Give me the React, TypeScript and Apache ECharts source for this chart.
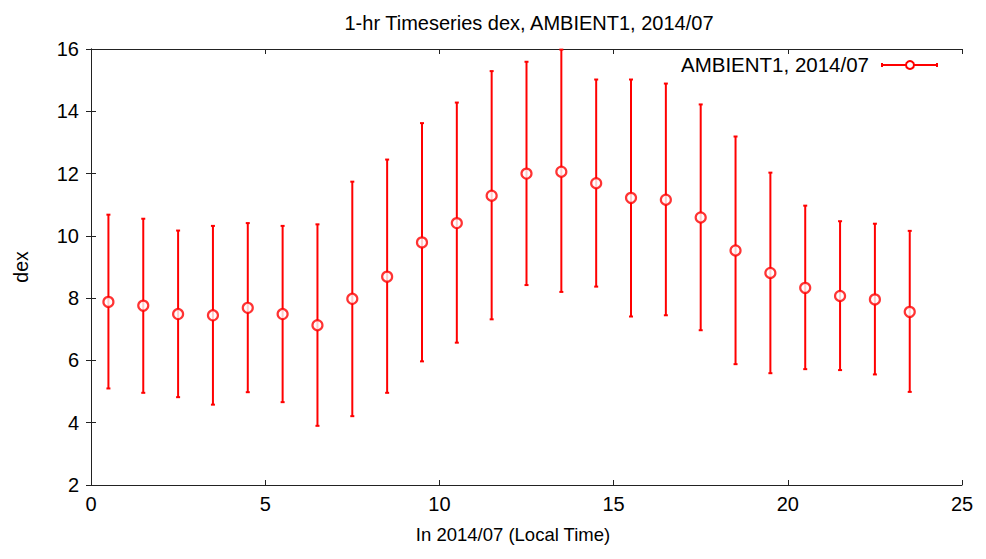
import React, { useEffect, useRef } from "react";
import * as echarts from "echarts";

const hours = [0.5, 1.5, 2.5, 3.5, 4.5, 5.5, 6.5, 7.5, 8.5, 9.5, 10.5, 11.5, 12.5, 13.5, 14.5, 15.5, 16.5, 17.5, 18.5, 19.5, 20.5, 21.5, 22.5, 23.5];
const means = [7.88, 7.76, 7.49, 7.45, 7.69, 7.49, 7.13, 7.98, 8.69, 9.79, 10.41, 11.29, 12.0, 12.06, 11.69, 11.22, 11.16, 10.59, 9.53, 8.81, 8.33, 8.07, 7.96, 7.56];
const highs = [10.68, 10.55, 10.17, 10.32, 10.41, 10.32, 10.37, 11.74, 12.45, 13.62, 14.28, 15.29, 15.59, 15.98, 15.02, 15.02, 14.89, 14.22, 13.19, 12.03, 10.97, 10.47, 10.39, 10.16];
const lows = [5.10, 4.96, 4.82, 4.58, 4.98, 4.66, 3.90, 4.21, 4.96, 5.97, 6.57, 7.32, 8.42, 8.20, 8.37, 7.41, 7.45, 6.97, 5.88, 5.59, 5.72, 5.69, 5.55, 4.99];

const titleText = "1-hr Timeseries dex, AMBIENT1, 2014/07";
const seriesName = "AMBIENT1, 2014/07";
const xName = "In 2014/07 (Local Time)";
const yName = "dex";

const FONT = "'Liberation Sans', Arial, sans-serif";
const RED = "#ff0000";
const AXIS = "#222222";

export default function App() {
  const ref = useRef<HTMLDivElement>(null);
  useEffect(() => {
    document.body.style.margin = "0";
    if (!ref.current) return;
    const chart = echarts.init(ref.current, undefined, { renderer: "svg" });
    const errData = hours.map((h, i) => [h, lows[i], highs[i]]);
    const ptData = hours.map((h, i) => [h, means[i]]);
    const axisCommon = {
      axisLine: { show: true, lineStyle: { color: AXIS, width: 1 } },
      axisTick: { show: true, inside: true, length: 5, lineStyle: { color: AXIS } },
      splitLine: { show: false },
    };
    chart.setOption({
      animation: false,
      backgroundColor: "#ffffff",
      title: {
        text: titleText,
        left: 524,
        textAlign: "center",
        top: 8,
        textStyle: { fontFamily: FONT, fontSize: 20, fontWeight: "normal", color: "#000" },
      },
      grid: { left: 91, top: 49, right: 24, bottom: 74, containLabel: false },
      xAxis: [
        {
          type: "value",
          min: 0,
          max: 25,
          interval: 5,
          position: "bottom",
          name: xName,
          nameLocation: "middle",
          nameGap: 40,
          nameTextStyle: { fontFamily: FONT, fontSize: 18.5, color: "#000", padding: [0, 27, 0, 0] },
          axisLabel: { fontFamily: FONT, fontSize: 20, color: "#000", margin: 9 },
          ...axisCommon,
        },
        {
          type: "value",
          min: 0,
          max: 25,
          interval: 5,
          position: "top",
          axisLabel: { show: false },
          ...axisCommon,
        },
      ],
      yAxis: [
        {
          type: "value",
          min: 2,
          max: 16,
          interval: 2,
          position: "left",
          name: yName,
          nameLocation: "middle",
          nameGap: 60,
          nameRotate: 90,
          nameTextStyle: { fontFamily: FONT, fontSize: 19.5, color: "#000" },
          axisLabel: { fontFamily: FONT, fontSize: 20, color: "#000", margin: 12 },
          ...axisCommon,
        },
        {
          type: "value",
          min: 2,
          max: 16,
          interval: 2,
          position: "right",
          axisLabel: { show: false },
          ...axisCommon,
        },
      ],
      series: [
        {
          type: "custom",
          name: seriesName,
          xAxisIndex: 0,
          yAxisIndex: 0,
          data: errData,
          renderItem: (params: any, api: any) => {
            const x = api.value(0);
            const lo = api.coord([x, api.value(1)]);
            const hi = api.coord([x, api.value(2)]);
            const cap = 2;
            const style = { stroke: RED, lineWidth: 2 };
            return {
              type: "group",
              children: [
                { type: "line", shape: { x1: lo[0], y1: lo[1], x2: hi[0], y2: hi[1] }, style },
                { type: "line", shape: { x1: lo[0] - cap, y1: lo[1], x2: lo[0] + cap, y2: lo[1] }, style },
                { type: "line", shape: { x1: hi[0] - cap, y1: hi[1], x2: hi[0] + cap, y2: hi[1] }, style },
              ],
            };
          },
          z: 2,
        },
        {
          type: "scatter",
          name: seriesName,
          data: ptData,
          symbol: "circle",
          symbolSize: 10,
          itemStyle: { color: "#ffffff", borderColor: RED, borderWidth: 2.2 },
          z: 3,
        },
      ],
      graphic: [
        {
          type: "text",
          x: 869,
          y: 64,
          style: { text: seriesName, fontFamily: FONT, fontSize: 20.5, fill: "#000", textAlign: "right", textVerticalAlign: "middle" },
        },
        { type: "line", shape: { x1: 882, y1: 65, x2: 937, y2: 65 }, style: { stroke: RED, lineWidth: 2 } },
        { type: "line", shape: { x1: 882, y1: 63, x2: 882, y2: 67 }, style: { stroke: RED, lineWidth: 2 } },
        { type: "line", shape: { x1: 937, y1: 63, x2: 937, y2: 67 }, style: { stroke: RED, lineWidth: 2 } },
        { type: "circle", shape: { cx: 910, cy: 65, r: 4 }, style: { fill: "#ffffff", stroke: RED, lineWidth: 2 } },
      ],
    });
    return () => chart.dispose();
  }, []);
  return <div ref={ref} style={{ width: 986, height: 559 }} />;
}
